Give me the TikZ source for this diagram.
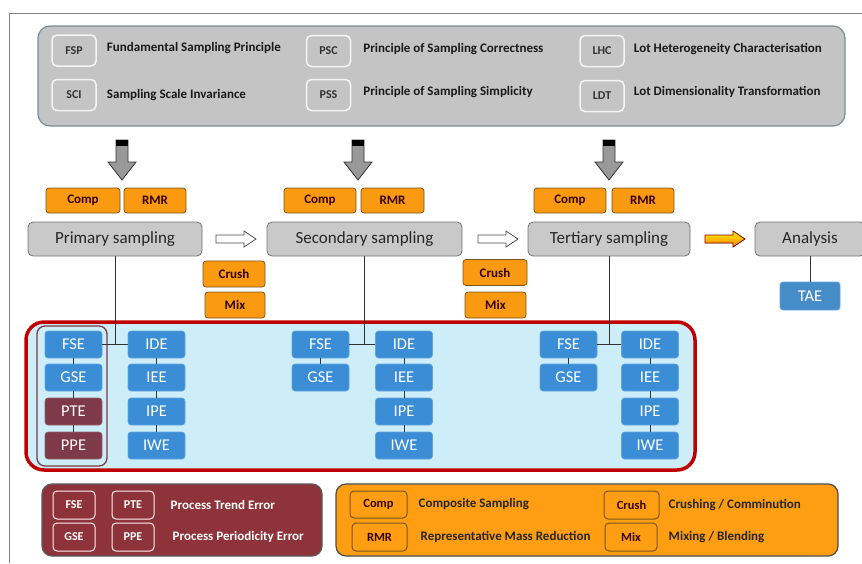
\documentclass[tikz,border=0pt]{standalone}
\usepackage{fontspec}
\setmainfont{Carlito}
\usetikzlibrary{positioning}
\definecolor{panelgray}{HTML}{C4C4C4}
\definecolor{panelline}{HTML}{7E8A96}
\definecolor{procgray}{HTML}{C9C9C9}
\definecolor{oporange}{HTML}{FA9A10}
\definecolor{opline}{HTML}{7A5520}
\definecolor{errblue}{HTML}{3B8ED6}
\definecolor{errred}{HTML}{7E3A48}
\definecolor{framered}{HTML}{C00000}
\definecolor{zonefill}{HTML}{CDEEF9}
\definecolor{legred}{HTML}{8E3339}
\definecolor{legorange}{HTML}{FF9E12}
\tikzset{
  panel/.style={fill=panelgray, draw=panelline, line width=1.2pt, rounded corners=12pt},
  abbr/.style={fill=panelgray, draw=white!92!gray, line width=1.5pt, rounded corners=5pt,
    minimum width=44pt, minimum height=31pt, inner sep=0pt, text=black!80,
    font=\fontsize{12}{14}\selectfont\bfseries},
  desc/.style={inner sep=0pt, text=black!90, font=\fontsize{13}{15}\selectfont\bfseries},
  proc/.style={fill=procgray, draw=gray!90!black, line width=0.8pt, rounded corners=5pt,
    minimum height=34pt, inner sep=0pt, text=black!85, font=\fontsize{17}{19}\selectfont},
  op/.style={fill=oporange, draw=opline, line width=0.8pt, rounded corners=3pt,
    minimum height=25pt, inner sep=0pt, text=black!80!red, font=\fontsize{13}{15}\selectfont\bfseries},
  err/.style={fill=errblue, draw=errblue!80!white, line width=0.6pt, rounded corners=3pt,
    minimum width=57pt, minimum height=27pt, inner sep=0pt, text=white,
    font=\fontsize{16.5}{18}\selectfont},
  errdark/.style={err, fill=errred, draw=errred!80!white},
  keyred/.style={draw=white!75!pink, line width=1pt, rounded corners=4pt,
    minimum width=42pt, minimum height=28pt, inner sep=0pt, text=white,
    font=\fontsize{12}{14}\selectfont\bfseries},
  keyorange/.style={draw=opline, line width=1pt, rounded corners=4pt,
    minimum height=27pt, inner sep=0pt, text=black!80!red,
    font=\fontsize{12.5}{14}\selectfont\bfseries},
  keytext/.style={inner sep=0pt, font=\fontsize{13}{15}\selectfont\bfseries},
  link/.style={draw=black!80, line width=0.6pt},
  bigarrow/.style={fill=gray!80, draw=black!80, line width=0.8pt},
  flowarrow/.style={fill=white, draw=black!70, line width=0.8pt}
}
\begin{document}
\begin{tikzpicture}[x=1pt,y=-1pt]
\useasboundingbox (0,0) rectangle (862,563);
% page frame
\draw[gray, line width=1pt] (9,563) -- (9,13) -- (862,13);

% principles panel
\node[panel, minimum width=807pt, minimum height=100pt] (princ) at (441.5,76) {};
\node[abbr] (fsp) at (74,50.5) {FSP};
\node[abbr] (sci) at (74,95) {SCI};
\node[abbr] (psc) at (328.5,51) {PSC};
\node[abbr] (pss) at (328.5,95) {PSS};
\node[abbr] (lhc) at (602,51) {LHC};
\node[abbr] (ldt) at (602,96) {LDT};
\node[desc, right=10pt of fsp, yshift=2pt] (fsptxt) {Fundamental Sampling Principle};
\node[desc, right=10pt of sci] (scitxt) {Sampling Scale Invariance};
\node[desc, right=12pt of psc, yshift=2pt] (psctxt) {Principle of Sampling Correctness};
\node[desc, right=12pt of pss, yshift=3pt] (psstxt) {Principle of Sampling Simplicity};
\node[desc, right=9pt of lhc, yshift=2pt] (lhctxt) {Lot Heterogeneity Characterisation};
\node[desc, right=9pt of ldt, yshift=4pt] (ldttxt) {Lot Dimensionality Transformation};

% down arrows
\foreach \x in {122,358,609} {
  \filldraw[bigarrow] (\x-6,140) -- (\x+6,140) -- (\x+6,162) -- (\x+14,162) -- (\x,180)
    -- (\x-14,162) -- (\x-6,162) -- cycle;
  \fill[black] (\x-6,140) rectangle (\x+6,146);
}

% operations above the stages
\node[op, minimum width=74pt] (comp1) at (83,200.5) {Comp};
\node[op, minimum width=62pt] (rmr1) at (155,200.5) {RMR};
\node[op, minimum width=72pt] (comp2) at (320,200.5) {Comp};
\node[op, minimum width=63pt] (rmr2) at (392.5,200.5) {RMR};
\node[op, minimum width=72pt] (comp3) at (570,200.5) {Comp};
\node[op, minimum width=62pt] (rmr3) at (643,200.5) {RMR};

% sampling stages
\node[proc, minimum width=174pt] (prim) at (115,239) {Primary sampling};
\node[proc, minimum width=195pt] (sec) at (364.5,239) {Secondary sampling};
\node[proc, minimum width=162pt] (tert) at (609,239) {Tertiary sampling};
\node[proc, minimum width=110pt] (anal) at (810,239) {Analysis};

% stage arrows
\foreach \a/\b in {216/256,478/518}
  \filldraw[flowarrow] (\a,235) -- (\b-12,235) -- (\b-12,231) -- (\b,239) -- (\b-12,247)
    -- (\b-12,243) -- (\a,243) -- cycle;
\filldraw[top color=yellow!90!orange, bottom color=orange, draw=red!50!black, line width=0.8pt]
  (705,235) -- (733,235) -- (733,231) -- (745,239) -- (733,247) -- (733,243) -- (705,243) -- cycle;

% operations between the stages
\node[op, minimum width=62pt, minimum height=26pt] (crush1) at (234,274) {Crush};
\node[op, minimum width=60pt, minimum height=26pt] (mix1) at (235,305) {Mix};
\node[op, minimum width=64pt, minimum height=26pt] (crush2) at (495,272.5) {Crush};
\node[op, minimum width=61pt, minimum height=26pt] (mix2) at (495.5,305) {Mix};

% analytical error
\node[err, fill=errblue!85!gray, minimum width=60pt, minimum height=28pt] (tae) at (810,296) {TAE};
\draw[link, line width=1pt] (anal) -- (tae);

% error zone
\draw[fill=zonefill, draw=framered, line width=3.5pt, rounded corners=18pt] (26,322) rectangle (695,470);
\draw[draw=errred, line width=1.3pt, rounded corners=8pt] (37,326) rectangle (107,466);

\node[err] (fse1) at (73.5,344.5) {FSE};
\node[err] (gse1) at (73.5,377.5) {GSE};
\node[errdark] (pte1) at (73.5,411.5) {PTE};
\node[errdark] (ppe1) at (73.5,445.5) {PPE};
\node[err] (fse2) at (320.5,344.5) {FSE};
\node[err] (gse2) at (320.5,377.5) {GSE};
\node[err] (fse3) at (568.5,344.5) {FSE};
\node[err] (gse3) at (568.5,377.5) {GSE};
\draw[link] (fse1) -- (gse1) -- (pte1) -- (ppe1);
\draw[link] (fse2) -- (gse2);
\draw[link] (fse3) -- (gse3);

\foreach \c/\x in {1/156.5,2/404,3/650} {
  \node[err] (ide\c) at (\x,344.5) {IDE};
  \node[err] (iee\c) at (\x,377.5) {IEE};
  \node[err] (ipe\c) at (\x,411.5) {IPE};
  \node[err] (iwe\c) at (\x,445.5) {IWE};
  \draw[link] (ide\c) -- (iee\c) -- (ipe\c) -- (iwe\c);
  \draw[link] (fse\c) -- (ide\c);
}
\draw[link] (prim.south) -- (prim.south |- fse1.east);
\draw[link] (sec.south) -- (sec.south |- fse2.east);
\draw[link] (tert.south) -- (tert.south |- fse3.east);

% legend: process errors
\node[fill=legred, draw=gray!70!black, line width=1.2pt, rounded corners=10pt,
  minimum width=280pt, minimum height=72pt] (legerr) at (182,520) {};
\node[keyred] (kfse) at (74,505) {FSE};
\node[keyred] (kpte) at (133,505) {PTE};
\node[keyred] (kgse) at (74,537) {GSE};
\node[keyred] (kppe) at (133,537) {PPE};
\node[keytext, text=white, right=16pt of kpte] (ptetxt) {Process Trend Error};
\node[keytext, text=white, right=18pt of kppe] (ppetxt) {Process Periodicity Error};

% legend: operations
\node[fill=legorange, draw=gray!60!black, line width=1.2pt, rounded corners=10pt,
  minimum width=502pt, minimum height=72pt] (legop) at (587,520) {};
\node[keyorange, minimum width=57pt] (kcomp) at (378.5,504.5) {Comp};
\node[keyorange, minimum width=55pt, minimum height=28pt] (krmr) at (379.5,537) {RMR};
\node[keyorange, minimum width=55pt, minimum height=28pt] (kcrush) at (631.5,505) {Crush};
\node[keyorange, minimum width=52pt, minimum height=28pt] (kmix) at (631,537) {Mix};
\node[keytext, text=black!85, right=11pt of kcomp] (comptxt) {Composite Sampling};
\node[keytext, text=black!85, right=13pt of krmr] (rmrtxt) {Representative Mass Reduction};
\node[keytext, text=black!85, right=9pt of kcrush] (crushtxt) {Crushing / Comminution};
\node[keytext, text=black!85, right=11pt of kmix] (mixtxt) {Mixing / Blending};
\end{tikzpicture}
\end{document}
